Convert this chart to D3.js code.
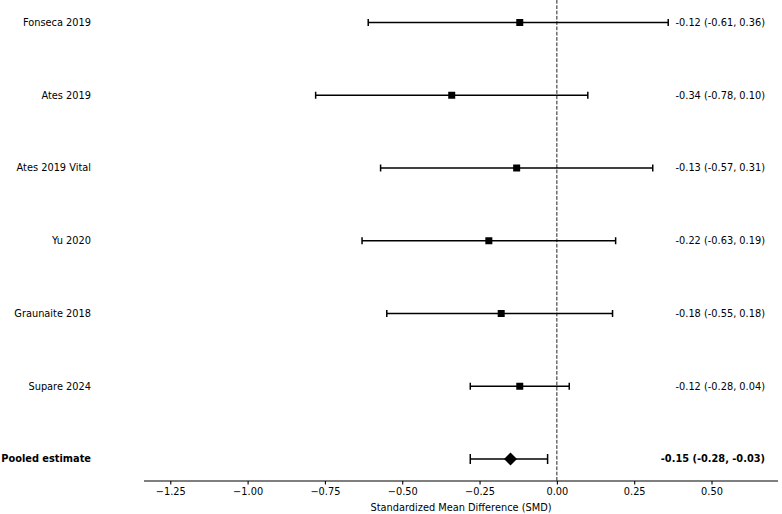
<!DOCTYPE html>
<html>
<head>
<meta charset="utf-8">
<script src="https://cdn.jsdelivr.net/npm/d3@7"></script>
<style>
  body { margin: 0; background: #fff; }
  text { font-family: "DejaVu Sans", sans-serif; }
</style>
</head>
<body>
<svg width="782" height="514"></svg>
<script>
let width = 782;
let height = 514;

// studies, top to bottom
let studies = ["Fonseca 2019", "Ates 2019", "Ates 2019 Vital", "Yu 2020", "Graunaite 2018", "Supare 2024", "Pooled estimate"];
let smd   = [-0.12, -0.34, -0.13, -0.22, -0.18, -0.12, -0.15];
let lower = [-0.61, -0.78, -0.57, -0.63, -0.55, -0.28, -0.28];
let upper = [ 0.36,  0.10,  0.31,  0.19,  0.18,  0.04, -0.03];
let xTicks = [-1.25, -1.00, -0.75, -0.50, -0.25, 0.00, 0.25, 0.50];

let fs = 9.8;
let svg = d3.select("svg");

// scales
let x = d3.scaleLinear().domain([-1.335, 0.715]).range([144, 778]);
let y = d3.scalePoint().domain(studies).range([22.5, 459]);

// dashed line at zero
svg.append("line")
  .attr("x1", x(0)).attr("x2", x(0))
  .attr("y1", 0).attr("y2", 481)
  .attr("stroke", "#222")
  .attr("stroke-width", 1)
  .attr("stroke-dasharray", "3.7,1.6");

// x axis
let axis = d3.axisBottom(x)
  .tickValues(xTicks)
  .tickFormat(d => d3.format(".2f")(d).replace("-", "\u2212"))
  .tickSize(3.5)
  .tickPadding(3.5);

let gx = svg.append("g")
  .attr("transform", "translate(0,481)")
  .call(axis);
gx.select(".domain").attr("stroke", "#000").attr("stroke-width", 1.1)
  .attr("d", "M144,0H778");
gx.selectAll(".tick line").attr("stroke", "#000").attr("stroke-width", 1.1);
gx.selectAll(".tick text").attr("font-size", fs).attr("fill", "#000")
  .attr("font-family", "DejaVu Sans");

svg.append("text")
  .attr("x", 461).attr("y", 510.5)
  .attr("text-anchor", "middle")
  .attr("font-size", fs)
  .text("Standardized Mean Difference (SMD)");

// rows
let rows = studies.map((s, i) => ({name: s, est: smd[i], lo: lower[i], hi: upper[i], pooled: s === "Pooled estimate"}));

let g = svg.append("g");

// CI lines
g.selectAll("line.ci")
  .data(rows)
  .enter()
  .append("line")
  .attr("class", "ci")
  .attr("x1", d => x(d.lo)).attr("x2", d => x(d.hi))
  .attr("y1", d => y(d.name)).attr("y2", d => y(d.name))
  .attr("stroke", "#000").attr("stroke-width", 1.5);

// caps
["lo", "hi"].forEach(k => {
  g.selectAll("line.cap-" + k)
    .data(rows)
    .enter()
    .append("line")
    .attr("x1", d => x(d[k])).attr("x2", d => x(d[k]))
    .attr("y1", d => y(d.name) - (d.pooled ? 5 : 3.5))
    .attr("y2", d => y(d.name) + (d.pooled ? 5 : 3.5))
    .attr("stroke", "#000").attr("stroke-width", 1.5);
});

// squares
g.selectAll("rect.pt")
  .data(rows.filter(d => !d.pooled))
  .enter()
  .append("rect")
  .attr("x", d => x(d.est) - 3.5)
  .attr("y", d => y(d.name) - 3.5)
  .attr("width", 7).attr("height", 7)
  .attr("fill", "#000");

// diamond for pooled
g.selectAll("path.pooled")
  .data(rows.filter(d => d.pooled))
  .enter()
  .append("path")
  .attr("d", d => {
    let cx = x(d.est), cy = y(d.name);
    return `M${cx - 6.5},${cy}L${cx},${cy - 6.5}L${cx + 6.5},${cy}L${cx},${cy + 6.5}Z`;
  })
  .attr("fill", "#000");

// study labels
g.selectAll("text.name")
  .data(rows)
  .enter()
  .append("text")
  .attr("x", 91)
  .attr("y", d => y(d.name))
  .attr("dy", "0.35em")
  .attr("text-anchor", "end")
  .attr("font-size", fs)
  .attr("font-weight", d => d.pooled ? "bold" : "normal")
  .text(d => d.name);

// estimate text
g.selectAll("text.est")
  .data(rows)
  .enter()
  .append("text")
  .attr("x", 765)
  .attr("y", d => y(d.name))
  .attr("dy", "0.35em")
  .attr("text-anchor", "end")
  .attr("font-size", fs)
  .attr("font-weight", d => d.pooled ? "bold" : "normal")
  .text(d => `${d.est.toFixed(2)} (${d.lo.toFixed(2)}, ${d.hi.toFixed(2)})`);
</script>
</body>
</html>
